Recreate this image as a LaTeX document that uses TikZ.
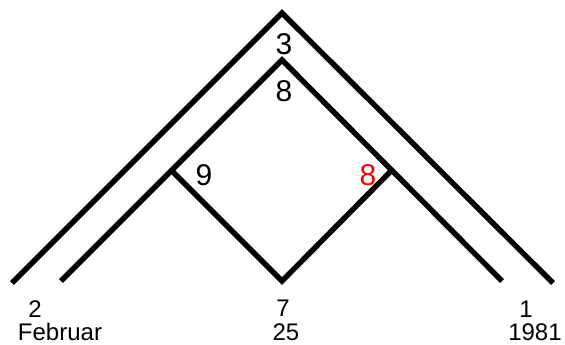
\documentclass[tikz,border=0pt]{standalone}
\usepackage{fontspec}
\setmainfont{Liberation Sans}
\begin{document}
\begin{tikzpicture}[x=1pt,y=-1pt,
  stroke/.style={line width=5.4pt,black,line join=miter},
  big/.style={inner sep=0pt,font=\fontsize{30}{30}\selectfont},
  small/.style={inner sep=0pt,font=\fontsize{24}{24}\selectfont}]
\useasboundingbox (0,0) rectangle (565,345);
% outer chevron
\coordinate (oL) at (12,283);
\coordinate (oT) at (282,13);
\coordinate (oR) at (553,283);
\draw[stroke] (oL) -- (oT) -- (oR);
% inner chevron
\coordinate (iL) at (61,281);
\coordinate (iT) at (282,60);
\coordinate (iR) at (502,281);
\draw[stroke] (iL) -- (iT) -- (iR);
% diamond bottom
\coordinate (dL) at (172,171);
\coordinate (dB) at (282,281);
\coordinate (dR) at (392,170);
\draw[stroke] (dL) -- (dB) -- (dR);
% numbers
\node[big] (n3) at (284,44) {3};
\node[big] (n8) at (284,91) {8};
\node[big] (n9) at (204,175) {9};
\node[big,text=red] (n8r) at (368,175) {8};
% bottom labels
\node[small] (l2) at (35,309) {2};
\node[small] (lfeb) at (60,332) {Februar};
\node[small] (l7) at (283,308) {7};
\node[small] (l25) at (286,332) {25};
\node[small] (l1) at (526,309) {1};
\node[small] (l1981) at (535,332) {1981};
\end{tikzpicture}
\end{document}
